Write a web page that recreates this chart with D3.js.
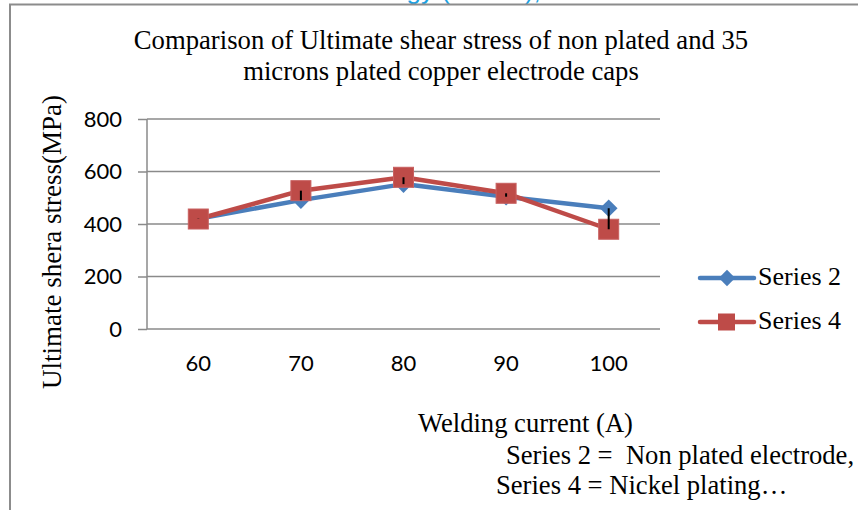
<!DOCTYPE html>
<html>
<head>
<meta charset="utf-8">
<script src="https://cdn.jsdelivr.net/npm/d3@7"></script>
<style>
  body { margin: 0; background: #fff; }
  svg { display: block; }
  .serif { font-family: "Liberation Serif", "DejaVu Serif", serif; fill: #000; }
  .tick-label { font-family: Lato, "Open Sans", sans-serif; font-size: 22px; fill: #000; }
</style>
</head>
<body>
<div id="chart"></div>
<script>
// categories and series
var currents = ["60", "70", "80", "90", "100"];
var series2 = [420, 491, 552, 504, 460];   // non plated
var series4 = [419, 527, 578, 517, 380];   // nickel plated
var yTicks = [0, 200, 400, 600, 800];
var seriesNames = ["Series 2", "Series 4"];

var width = 858, height = 510;
var plot = {left: 147, right: 660, top: 119, bottom: 329};

var svg = d3.select("#chart").append("svg")
            .attr("width", width)
            .attr("height", height);

// page fragment cut off at the top of the crop
svg.append("text")
   .attr("x", 392).attr("y", -1)
   .attr("fill", "#1ba1e2")
   .attr("font-family", "Liberation Sans, sans-serif")
   .attr("font-size", 26)
   .text("ogy (IJMET),");

// frame of the chart object
svg.append("path")
   .attr("d", "M10,510 V4.5 H858")
   .attr("fill", "none")
   .attr("stroke", "#8c8c8c")
   .attr("stroke-width", 2);

var x = d3.scalePoint()
          .domain(currents)
          .range([plot.left, plot.right])
          .padding(0.5);

var y = d3.scaleLinear()
          .domain([0, 800])
          .range([plot.bottom, plot.top]);

// horizontal gridlines
svg.append("g")
   .selectAll("line")
   .data(yTicks.filter(function(d) { return d > 0; }))
   .join("line")
   .attr("x1", plot.left).attr("x2", plot.right)
   .attr("y1", function(d) { return y(d); })
   .attr("y2", function(d) { return y(d); })
   .attr("stroke", "#8a8a8a")
   .attr("stroke-width", 1.5);

// y axis
var yAxis = d3.axisLeft(y).tickValues(yTicks).tickSize(9).tickPadding(16);
var yGroup = svg.append("g")
                .attr("transform", "translate(" + plot.left + ",0)")
                .call(yAxis);
yGroup.select(".domain").attr("stroke", "#8a8a8a").attr("stroke-width", 1.5)
      .attr("d", "M0," + plot.top + "V" + plot.bottom);
yGroup.selectAll(".tick line").attr("stroke", "#8a8a8a").attr("stroke-width", 1.5);
yGroup.selectAll(".tick text").attr("class", "tick-label").attr("font-size", null).attr("font-family", null);

// x axis line
svg.append("line")
   .attr("x1", plot.left).attr("x2", plot.right)
   .attr("y1", plot.bottom).attr("y2", plot.bottom)
   .attr("stroke", "#8a8a8a")
   .attr("stroke-width", 1.5);

svg.append("g")
   .selectAll("text")
   .data(currents)
   .join("text")
   .attr("class", "tick-label")
   .attr("x", function(d) { return x(d); })
   .attr("y", 371)
   .attr("text-anchor", "middle")
   .text(function(d) { return d; });

var line = d3.line()
             .x(function(d, i) { return x(currents[i]); })
             .y(function(d) { return y(d); });

var blue = "#4a7ebb", red = "#be4b48";

// series 2 : blue diamonds
svg.append("path")
   .datum(series2)
   .attr("d", line)
   .attr("fill", "none")
   .attr("stroke", blue)
   .attr("stroke-width", 4.5)
   .attr("stroke-linejoin", "round");

svg.append("g")
   .selectAll("path")
   .data(series2)
   .join("path")
   .attr("d", d3.symbol(d3.symbolDiamond2, 200))
   .attr("transform", function(d, i) { return "translate(" + x(currents[i]) + "," + y(d) + ")"; })
   .attr("fill", blue);

// series 4 : red squares
svg.append("path")
   .datum(series4)
   .attr("d", line)
   .attr("fill", "none")
   .attr("stroke", red)
   .attr("stroke-width", 4.5)
   .attr("stroke-linejoin", "round");

svg.append("g")
   .selectAll("rect")
   .data(series4)
   .join("rect")
   .attr("x", function(d, i) { return x(currents[i]) - 10; })
   .attr("y", function(d) { return y(d) - 10; })
   .attr("width", 20).attr("height", 20)
   .attr("fill", red)
   .attr("stroke", "#c86060")
   .attr("stroke-width", 1);

// high-low lines between the two series
svg.append("g")
   .selectAll("line")
   .data(currents)
   .join("line")
   .attr("x1", function(d) { return x(d); })
   .attr("x2", function(d) { return x(d); })
   .attr("y1", function(d, i) { return y(Math.max(series2[i], series4[i])); })
   .attr("y2", function(d, i) { return y(Math.min(series2[i], series4[i])) + 0.01; })
   .attr("stroke", "#000")
   .attr("stroke-width", 2);

// legend
var legendY = [278, 322];
[blue, red].forEach(function(c, i) {
    var g = svg.append("g").attr("transform", "translate(700," + legendY[i] + ")");
    g.append("line").attr("x1", 0).attr("x2", 54).attr("y1", 0).attr("y2", 0)
     .attr("stroke", c).attr("stroke-width", 4.5).attr("stroke-linecap", "round");
    if (i === 0) {
        g.append("path").attr("d", d3.symbol(d3.symbolDiamond2, 170))
         .attr("transform", "translate(27,0)").attr("fill", c);
    } else {
        g.append("rect").attr("x", 18).attr("y", -8.5).attr("width", 17).attr("height", 17)
         .attr("fill", c);
    }
    g.append("text").attr("class", "serif").attr("x", 58).attr("y", 7)
     .attr("font-size", 26).text(seriesNames[i]);
});

// titles
var title = svg.append("text").attr("class", "serif")
               .attr("text-anchor", "middle").attr("font-size", 26.7);
title.append("tspan").attr("x", 441).attr("y", 49)
     .text("Comparison of Ultimate shear stress of non plated and 35");
title.append("tspan").attr("x", 441).attr("y", 80)
     .text("microns plated copper electrode caps");

svg.append("text").attr("class", "serif")
   .attr("transform", "translate(61,242) rotate(-90)")
   .attr("text-anchor", "middle")
   .attr("font-size", 27)
   .text("Ultimate shera stress(MPa)");

svg.append("text").attr("class", "serif")
   .attr("x", 418).attr("y", 432).attr("font-size", 26.6)
   .text("Welding current (A)");
svg.append("text").attr("class", "serif")
   .attr("x", 506).attr("y", 464).attr("font-size", 26.6)
   .style("white-space", "pre")
   .text("Series 2 =  Non plated electrode,");
svg.append("text").attr("class", "serif")
   .attr("x", 496).attr("y", 494).attr("font-size", 26.6)
   .text("Series 4 = Nickel plating\u2026");
</script>
</body>
</html>
